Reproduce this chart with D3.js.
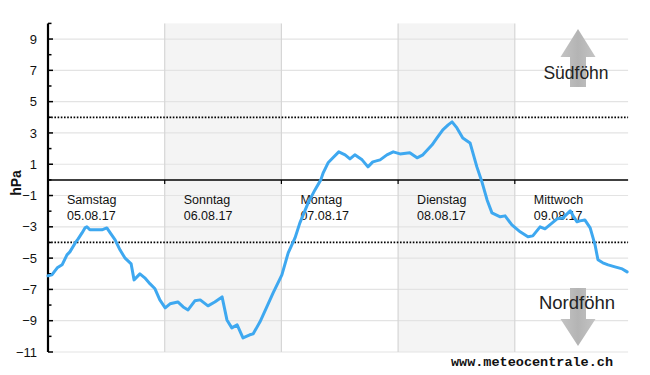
<!DOCTYPE html>
<html>
<head>
<meta charset="utf-8">
<script src="https://cdn.jsdelivr.net/npm/d3@7"></script>
<style>
  html, body { margin: 0; padding: 0; background: #fff; }
  #chart { width: 650px; height: 375px; }
  text { font-family: Arial, "Liberation Sans", sans-serif; }
</style>
</head>
<body>
<div id="chart"></div>
<script>
// Föhn-Diagramm: Druckdifferenz Süd-Nord in hPa

const days = ["Samstag", "Sonntag", "Montag", "Dienstag", "Mittwoch"];
const dates = ["05.08.17", "06.08.17", "07.08.17", "08.08.17", "09.08.17"];

// hours since Samstag 00:00
const hours = [0, 0.8, 1.9, 2.9, 3.9, 4.5, 5.6, 6.2, 7.0, 7.6, 8.0, 8.6, 9.7, 11.1, 12.1, 12.8,
  13.8, 14.8, 15.8, 17.1, 17.7, 18.9, 19.9, 21.0, 22.0, 23.0, 24.1, 25.1, 26.7, 27.8, 28.8,
  30.2, 31.3, 32.9, 34.3, 35.8, 36.8, 37.8, 38.9, 40.1, 41.5, 42.2, 43.6, 45.0, 46.3, 48.1,
  49.4, 50.8, 51.8, 53.5, 54.9, 56.1, 56.6, 57.6, 58.6, 59.8, 61.1, 62.1, 63.1, 64.6, 65.8,
  66.8, 68.3, 69.7, 71.0, 72.4, 74.4, 75.9, 77.1, 79.0, 80.0, 81.2, 82.3, 83.1, 84.1, 85.3,
  86.8, 88.2, 89.3, 90.3, 91.3, 93.0, 94.0, 95.4, 97.1, 98.7, 99.7, 101.2, 102.2, 103.7,
  104.7, 105.9, 107.4, 108.0, 108.8, 109.4, 110.4, 111.5, 112.5, 113.1, 114.1, 115.2,
  116.6, 118.1, 119.1];

// pressure difference, hPa
const hpa = [-6.13, -6.07, -5.62, -5.43, -4.79, -4.60, -4.03, -3.77, -3.39, -3.07, -3.0, -3.19,
  -3.19, -3.19, -3.07, -3.39, -3.83, -4.47, -4.98, -5.37, -6.39, -6.01, -6.26, -6.65, -6.96,
  -7.67, -8.18, -7.92, -7.80, -8.12, -8.31, -7.73, -7.67, -8.05, -7.80, -7.48, -8.95, -9.46,
  -9.27, -10.10, -9.90, -9.84, -9.07, -8.12, -7.22, -6.07, -4.66, -3.71, -2.75, -1.47, -0.64,
  0.0, 0.45, 1.09, 1.41, 1.79, 1.60, 1.34, 1.60, 1.28, 0.83, 1.15, 1.28, 1.60, 1.79, 1.66,
  1.73, 1.41, 1.60, 2.24, 2.68, 3.19, 3.51, 3.71, 3.32, 2.68, 2.36, 0.83, -0.19, -1.28, -2.11,
  -2.36, -2.30, -2.88, -3.32, -3.64, -3.58, -3.00, -3.13, -2.75, -2.49, -2.43, -1.98, -2.30,
  -2.68, -2.62, -2.56, -3.07, -4.15, -5.11, -5.30, -5.43, -5.56, -5.69, -5.88];

const majorTicks = [-11, -9, -7, -5, -3, -1, 1, 3, 5, 7, 9];
const minorTicks = [-10, -8, -6, -4, -2, 0, 2, 4, 6, 8, 10];
const thresholds = [4, -4];

const width = 650, height = 375;
const endHour = 119.3;

const svg = d3.select("#chart").append("svg")
  .attr("width", width)
  .attr("height", height);

const x = d3.scaleLinear().domain([0, 120]).range([48, 631.5]);
const y = d3.scaleLinear().domain([-11, 10]).range([352, 23.4]);

const x0 = x(0), x1 = x(endHour);

// shaded days (Sonntag, Dienstag)
svg.append("g").selectAll("rect")
  .data(days.map((d, i) => i).filter(i => i % 2 === 1))
  .join("rect")
  .attr("x", i => x(i * 24))
  .attr("y", y(10))
  .attr("width", i => x((i + 1) * 24) - x(i * 24))
  .attr("height", y(-11) - y(10))
  .attr("fill", "#f4f4f4");

// horizontal grid lines at odd values
svg.append("g").selectAll("line")
  .data(majorTicks)
  .join("line")
  .attr("x1", x0).attr("x2", x1)
  .attr("y1", d => y(d)).attr("y2", d => y(d))
  .attr("stroke", "#e3e3e3")
  .attr("stroke-width", 1.2);

// day separators
svg.append("g").selectAll("line")
  .data(d3.range(1, days.length))
  .join("line")
  .attr("x1", i => x(i * 24)).attr("x2", i => x(i * 24))
  .attr("y1", y(10)).attr("y2", y(-11))
  .attr("stroke", "#d6d6d6")
  .attr("stroke-width", 1.2);

// threshold dotted lines
svg.append("g").selectAll("line")
  .data(thresholds)
  .join("line")
  .attr("x1", x0).attr("x2", x1)
  .attr("y1", d => y(d)).attr("y2", d => y(d))
  .attr("stroke", "#000")
  .attr("stroke-width", 1.8)
  .attr("stroke-dasharray", "1.6,1.6");

// zero line with day ticks
svg.append("line")
  .attr("x1", x0).attr("x2", x1)
  .attr("y1", y(0)).attr("y2", y(0))
  .attr("stroke", "#000")
  .attr("stroke-width", 1.5);

svg.append("g").selectAll("line")
  .data(d3.range(1, days.length))
  .join("line")
  .attr("x1", i => x(i * 24)).attr("x2", i => x(i * 24))
  .attr("y1", y(0)).attr("y2", y(0) + 4)
  .attr("stroke", "#000")
  .attr("stroke-width", 1.2);

// day labels
const dayLabels = svg.append("g").selectAll("g")
  .data(days)
  .join("g")
  .attr("transform", (d, i) => `translate(${x(i * 24) + 19},0)`);

dayLabels.append("text")
  .attr("y", y(0) + 24)
  .attr("font-size", "12.5px")
  .attr("fill", "#111")
  .text(d => d);

dayLabels.append("text")
  .attr("y", y(0) + 40)
  .attr("font-size", "12.5px")
  .attr("fill", "#111")
  .text((d, i) => dates[i]);

// y axis
svg.append("line")
  .attr("x1", x0).attr("x2", x0)
  .attr("y1", y(10)).attr("y2", y(-11))
  .attr("stroke", "#000")
  .attr("stroke-width", 2.2);

svg.append("g").selectAll("line")
  .data(majorTicks)
  .join("line")
  .attr("x1", x0).attr("x2", x0 + 5)
  .attr("y1", d => y(d)).attr("y2", d => y(d))
  .attr("stroke", "#000")
  .attr("stroke-width", 1.5);

svg.append("g").selectAll("line")
  .data(minorTicks)
  .join("line")
  .attr("x1", x0).attr("x2", x0 + 3.5)
  .attr("y1", d => y(d)).attr("y2", d => y(d))
  .attr("stroke", "#000")
  .attr("stroke-width", 1.5);

const fmt = d3.format("d");
svg.append("g").selectAll("text")
  .data(majorTicks)
  .join("text")
  .attr("x", x0 - 11)
  .attr("y", d => y(d))
  .attr("dy", "0.36em")
  .attr("text-anchor", "end")
  .attr("font-size", "13px")
  .attr("fill", "#111")
  .text(d => fmt(d));

svg.append("text")
  .attr("transform", `translate(21,${y(-0.2)}) rotate(-90)`)
  .attr("text-anchor", "middle")
  .attr("font-size", "14px")
  .attr("font-weight", "bold")
  .attr("fill", "#111")
  .text("hPa");

// Föhn arrows
const ax = 578;
const grad = svg.append("defs").append("linearGradient")
  .attr("id", "arrowFill")
  .attr("x1", 0).attr("x2", 1).attr("y1", 0).attr("y2", 0);
grad.append("stop").attr("offset", "0%").attr("stop-color", "#c4c4c4");
grad.append("stop").attr("offset", "50%").attr("stop-color", "#b4b4b4");
grad.append("stop").attr("offset", "100%").attr("stop-color", "#c4c4c4");

svg.append("path")
  .attr("d", `M${ax},29 L${ax + 17.5},57 L${ax + 8},57 L${ax + 8},87 L${ax - 8},87 L${ax - 8},57 L${ax - 17.5},57 Z`)
  .attr("fill", "url(#arrowFill)");
svg.append("path")
  .attr("d", `M${ax},346 L${ax + 17.5},319 L${ax + 8},319 L${ax + 8},288 L${ax - 8},288 L${ax - 8},319 L${ax - 17.5},319 Z`)
  .attr("fill", "url(#arrowFill)");

svg.append("text")
  .attr("x", ax - 2).attr("y", 79)
  .attr("text-anchor", "middle")
  .attr("font-size", "17.5px")
  .attr("fill", "#222")
  .text("Südföhn");

svg.append("text")
  .attr("x", ax - 1).attr("y", 309)
  .attr("text-anchor", "middle")
  .attr("font-size", "18.5px")
  .attr("fill", "#222")
  .text("Nordföhn");

// pressure line
const line = d3.line()
  .x((d, i) => x(hours[i]))
  .y(d => y(d))
  .curve(d3.curveLinear);

svg.append("path")
  .datum(hpa)
  .attr("d", line)
  .attr("fill", "none")
  .attr("stroke", "#3ea8f0")
  .attr("stroke-width", 3)
  .attr("stroke-linejoin", "round")
  .attr("stroke-linecap", "round");

// watermark
svg.append("text")
  .attr("x", 613).attr("y", 366)
  .attr("text-anchor", "end")
  .style("font-family", "'Liberation Mono', 'DejaVu Sans Mono', monospace")
  .attr("font-size", "13.5px")
  .attr("font-weight", "bold")
  .attr("fill", "#111")
  .text("www.meteocentrale.ch");
</script>
</body>
</html>
